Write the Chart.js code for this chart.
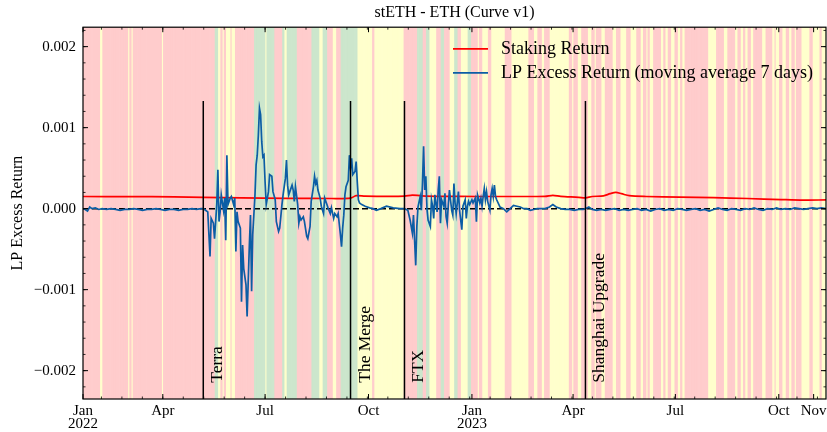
<!DOCTYPE html>
<html>
<head>
<meta charset="utf-8">
<script src="https://cdn.jsdelivr.net/npm/chart.js@4.4.0/dist/chart.umd.min.js"></script>
<style>
  html, body { margin: 0; padding: 0; background: #fff; }
  #wrap { width: 827px; height: 432px; }
</style>
</head>
<body>
<div id="wrap"><canvas id="chart" width="827" height="432"></canvas></div>
<script>
// x values are days counted from 1 Jan 2022 (day 0)
const X_MIN = 19;
const X_MAX = 680;
const Y_MIN = -0.00235;
const Y_MAX = 0.00224;

const xTickDays = [19, 90, 181, 273, 365, 455, 546, 638, 669];
const xTickLabels = [['Jan', '2022'], 'Apr', 'Jul', 'Oct', ['Jan', '2023'], 'Apr', 'Jul', 'Oct', 'Nov'];
const yTickValues = [-0.002, -0.001, 0, 0.001, 0.002];

// market regime shading: each run starts at the given day and lasts until the next one
const bandStart = [
  19, 35, 37, 60, 61, 63, 64, 90, 91, 137,
  140, 142, 144, 145, 147, 151, 152, 155, 172, 182,
  183, 190, 197, 199, 201, 210, 223, 230, 233, 237,
  242, 245, 249, 264, 277, 279, 305, 317, 322, 325,
  328, 334, 338, 341, 346, 350, 353, 356, 362, 365,
  371, 372, 375, 380, 383, 395, 401, 416, 421, 424,
  428, 430, 435, 452, 455, 456, 460, 463, 469, 472,
  475, 476, 481, 484, 491, 494, 498, 503, 507, 512,
  516, 518, 521, 522, 524, 527, 534, 536, 538, 540,
  543, 546, 549, 551, 553, 555, 576, 583, 590, 593,
  600, 602, 605, 607, 609, 611, 614, 616, 624, 627,
  633, 635, 636, 639, 642, 645, 648, 650, 653, 654,
  659, 666, 669, 675, 677
];
const bandRegime = [
  'R','Y','R','Y','R','Y','R','Y','R','G',
  'Y','R','Y','R','Y','R','Y','R','G','Y',
  'G','R','G','Y','G','R','G','Y','G','R',
  'Y','R','G','Y','R','Y','R','G','R','G',
  'Y','R','G','R','Y','G','R','Y','G','R',
  'Y','R','Y','R','Y','R','Y','R','Y','R',
  'Y','R','Y','R','Y','R','Y','R','Y','R',
  'Y','R','Y','R','Y','R','Y','R','Y','R',
  'Y','R','Y','R','Y','R','Y','R','Y','R',
  'Y','R','Y','R','Y','R','Y','R','Y','R',
  'Y','R','Y','R','Y','R','Y','R','Y','R',
  'Y','R','Y','R','Y','R','Y','R','Y','R',
  'Y','R','Y','R','Y'
];
const regimeColors = { R: '#ffcccc', Y: '#ffffcc', G: '#cce6cc' };

// staking return (x 1e-3)
const stakingDays = [19, 60, 100, 126, 160, 200, 240, 257, 262, 270, 290, 305, 312, 320, 340, 370, 400, 430, 437, 444, 460, 466, 472, 482, 488, 493, 498, 505, 520, 550, 580, 610, 640, 660, 680];
const stakingMilli = [0.150, 0.148, 0.146, 0.140, 0.133, 0.128, 0.125, 0.130, 0.160, 0.155, 0.152, 0.155, 0.168, 0.158, 0.152, 0.150, 0.150, 0.152, 0.165, 0.152, 0.140, 0.132, 0.150, 0.158, 0.185, 0.200, 0.185, 0.160, 0.150, 0.143, 0.135, 0.125, 0.112, 0.105, 0.108];

// LP excess return, 7 day moving average (x 1e-3)
const lpDays = [
  19, 21, 23, 25, 27, 30, 33, 36, 40, 44, 48, 52, 56, 60, 64, 68, 72, 76, 80, 84,
  88, 92, 96, 100, 104, 108, 112, 116, 120, 124, 126,
  128, 130, 132, 133, 135, 136, 138, 139, 140, 141, 142, 144, 145, 146, 147, 148, 150, 151, 153,
  154, 155, 156, 157, 159, 160, 161, 162, 164, 165, 167, 168, 169, 170, 172, 173, 174, 175, 176, 177,
  178, 179, 180, 181, 182, 184, 185, 187, 188, 190, 191, 193, 194, 196, 197, 199, 200, 201, 202, 203,
  205, 206, 207, 208, 210, 211, 212, 213, 215, 216, 218, 219, 221, 222, 224, 225, 226, 227, 228, 230,
  231, 233, 234, 236, 237, 239, 240, 242, 243, 245, 246, 248, 249, 250, 251, 252, 253, 255, 256, 257,
  258, 259, 261, 262, 263, 264, 265, 267, 270, 274, 277, 280, 284, 289, 295, 301, 305,
  308, 310, 312, 313, 315, 316, 317, 319, 320, 321, 322, 323, 324, 325, 326, 328, 329, 330, 331, 332,
  334, 335, 336, 337, 338, 340, 341, 342, 343, 344, 345, 347, 348, 349, 350, 351, 353, 354, 355, 356,
  357, 359, 360, 361, 362, 363, 365, 366, 368, 369, 370, 372, 373, 374, 375, 376, 377, 378, 379, 381,
  382, 383, 384, 385, 386, 387, 389, 390, 393, 396, 399, 402, 405, 408, 411, 414, 417, 420, 423, 426,
  430, 434, 437, 440, 444, 448, 452, 456, 460, 464, 466, 469, 472, 476, 480,
  484, 488, 492, 496, 500, 504, 508, 512, 516, 520, 524, 528, 532, 536, 540, 544, 548, 552, 556, 560,
  564, 568, 572, 576, 580, 584, 588, 592, 596, 600, 604, 608, 612, 616, 620, 624, 628, 632, 636, 640,
  644, 648, 652, 656, 660, 664, 668, 672, 676, 680
];
const lpMilli = [
  0.00, -0.01, -0.03, 0.02, 0.00, 0.01, -0.01, 0.00, -0.01, 0.00, -0.01, -0.02, -0.01, -0.01, 0.00, -0.01, -0.02, -0.01, -0.01, 0.00,
  -0.01, -0.02, -0.01, -0.01, -0.02, -0.01, -0.01, 0.00, -0.01, 0.00, 0.00,
  -0.02, -0.04, -0.59, -0.12, -0.18, -0.37, 0.05, 0.48, -0.16, -0.04, 0.17, -0.02, 0.13, -0.39, 0.66, 0.05, 0.13, 0.15, 0.05,
  0.13, -0.53, -0.04, -0.16, -0.24, -1.15, -0.45, -0.74, -0.94, -1.33, -0.45, -0.08, -1.02, -0.32, 0.17, 0.54, 0.66, 0.91, 1.24, 1.16,
  0.83, 0.64, 0.66, 0.33, 0.05, 0.21, 0.42, 0.40, 0.21, 0.11, -0.16, -0.28, -0.24, 0.05, 0.17, 0.37, 0.60, 0.29, 0.17, 0.21,
  0.29, 0.23, 0.09, 0.27, 0.05, -0.18, -0.10, -0.14, -0.10, -0.16, -0.34, -0.37, -0.22, 0.09, 0.27, 0.40, 0.31, 0.35, 0.23, 0.13,
  0.03, -0.06, 0.13, 0.05, 0.01, -0.06, 0.01, -0.12, -0.06, -0.10, -0.06, -0.32, -0.47, -0.24, -0.08, 0.17, 0.27, 0.35, 0.66, 0.50,
  0.62, 0.42, 0.46, 0.58, 0.33, 0.11, 0.07, 0.05, 0.03, 0.01, 0.00, -0.02, 0.00, 0.03, 0.01, 0.00, 0.00,
  -0.02, -0.14, -0.30, -0.08, -0.70, -0.22, 0.02, 0.15, -0.02, 0.31, 0.77, 0.23, 0.40, 0.00, -0.14, -0.22, 0.11, 0.03, -0.12, 0.17,
  -0.04, 0.23, 0.40, -0.18, 0.11, 0.03, 0.19, -0.10, -0.18, 0.05, 0.23, -0.02, -0.08, 0.31, 0.07, -0.06, 0.21, -0.02, -0.14, -0.26,
  0.03, 0.11, -0.12, 0.03, 0.09, 0.05, 0.11, 0.07, 0.13, -0.16, 0.17, 0.07, 0.13, 0.03, 0.15, 0.25, 0.11, 0.21, 0.09, -0.02,
  0.17, 0.25, 0.15, 0.29, 0.15, 0.11, 0.05, 0.02, 0.00, -0.04, 0.00, 0.04, 0.03, 0.02, 0.00, 0.00, -0.02, -0.01, 0.00, 0.00,
  0.00, 0.02, 0.05, 0.02, 0.00, -0.01, -0.01, -0.02, -0.01, -0.01, 0.00, 0.02, -0.01, -0.02, -0.01,
  -0.02, -0.01, 0.00, -0.02, -0.01, -0.02, -0.01, 0.00, -0.02, -0.01, -0.03, -0.01, 0.00, -0.02, -0.01, -0.02, 0.00, -0.01, -0.02, -0.01,
  0.00, -0.02, -0.01, -0.03, -0.01, 0.01, -0.01, -0.02, 0.00, -0.01, -0.02, 0.00, -0.01, 0.01, -0.01, -0.02, 0.00, -0.01, 0.01, -0.01,
  0.00, -0.01, 0.01, 0.00, -0.01, 0.00, 0.01, 0.00, 0.01, 0.00
];

const eventDays = [126, 257, 305, 466];
const eventNames = ['Terra', 'The Merge', 'FTX', 'Shanghai Upgrade'];
const EVENT_TOP = 0.00133;
const EVENT_LABEL_Y = -0.00215;

const SERIF = '"Liberation Serif", "DejaVu Serif", serif';
const BLUE = '#0C5DA5';

// one shaded column per day
const bandDays = [];
for (let d = X_MIN; d <= X_MAX; d++) bandDays.push(d);
const regimeOfDay = d => {
  let r = bandRegime[0];
  for (let i = 0; i < bandStart.length; i++) {
    if (bandStart[i] <= d) r = bandRegime[i];
  }
  return r;
};

const datasets = [
  {
    type: 'bar',
    label: 'regime',
    data: bandDays.map(d => ({ x: d, y: [Y_MIN, Y_MAX] })),
    backgroundColor: bandDays.map(d => regimeColors[regimeOfDay(d)]),
    borderWidth: 0,
    barPercentage: 1,
    categoryPercentage: 1,
    order: 10
  },
  {
    label: 'zero',
    data: [{ x: X_MIN, y: 0 }, { x: X_MAX, y: 0 }],
    borderColor: '#000',
    borderWidth: 1.5,
    borderDash: [6, 3],
    pointRadius: 0,
    order: 3
  },
  {
    label: 'Staking Return',
    data: stakingDays.map((d, i) => ({ x: d, y: stakingMilli[i] / 1000 })),
    borderColor: '#ff0000',
    borderWidth: 1.7,
    pointRadius: 0,
    tension: 0.3,
    order: 2
  },
  {
    label: 'LP Excess Return (moving average 7 days)',
    data: lpDays.map((d, i) => ({ x: d, y: lpMilli[i] / 1000 })),
    borderColor: BLUE,
    borderWidth: 1.7,
    pointRadius: 0,
    order: 1
  }
];
eventDays.forEach((d, i) => {
  datasets.push({
    label: eventNames[i],
    data: [{ x: d, y: Y_MIN }, { x: d, y: EVENT_TOP }],
    borderColor: '#000',
    borderWidth: 1.5,
    pointRadius: 0,
    order: 0
  });
});

// frame, inward ticks, event labels and legend
const decor = {
  id: 'decor',
  afterDatasetsDraw(chart) {
    const { ctx, chartArea: a, scales: { x, y } } = chart;
    ctx.save();

    ctx.fillStyle = '#000';
    ctx.font = '17.5px ' + SERIF;
    ctx.textAlign = 'left';
    ctx.textBaseline = 'alphabetic';
    eventDays.forEach((d, i) => {
      ctx.save();
      ctx.translate(x.getPixelForValue(d) + 19, y.getPixelForValue(EVENT_LABEL_Y));
      ctx.rotate(-Math.PI / 2);
      ctx.fillText(eventNames[i], 0, 0);
      ctx.restore();
    });

    ctx.strokeStyle = '#000';
    const tick = (x1, y1, x2, y2, w) => {
      ctx.lineWidth = w;
      ctx.beginPath();
      ctx.moveTo(x1, y1);
      ctx.lineTo(x2, y2);
      ctx.stroke();
    };
    xTickDays.forEach(d => {
      const px = x.getPixelForValue(d);
      tick(px, a.bottom, px, a.bottom - 5, 1);
      tick(px, a.top, px, a.top + 5, 1);
    });
    for (let d = 90 - 91 / 5 * 3; d <= X_MAX; d += 91 / 5) {
      if (d < X_MIN) continue;
      const px = x.getPixelForValue(d);
      tick(px, a.bottom, px, a.bottom - 2.5, 0.8);
      tick(px, a.top, px, a.top + 2.5, 0.8);
    }
    yTickValues.forEach(v => {
      const py = y.getPixelForValue(v);
      tick(a.left, py, a.left + 5, py, 1);
      tick(a.right, py, a.right - 5, py, 1);
    });
    for (let k = -11; k <= 11; k++) {
      const v = k * 0.0002;
      if (v < Y_MIN || v > Y_MAX) continue;
      const py = y.getPixelForValue(v);
      tick(a.left, py, a.left + 2.5, py, 0.8);
      tick(a.right, py, a.right - 2.5, py, 0.8);
    }

    ctx.lineWidth = 1.2;
    ctx.strokeRect(a.left, a.top, a.right - a.left, a.bottom - a.top);

    const lx = a.right - 373;
    const rows = [
      { text: 'Staking Return', color: '#ff0000', dy: 21.7 },
      { text: 'LP Excess Return (moving average 7 days)', color: BLUE, dy: 45.7 }
    ];
    ctx.font = '18px ' + SERIF;
    ctx.textBaseline = 'middle';
    rows.forEach(r => {
      const ly = a.top + r.dy;
      ctx.strokeStyle = r.color;
      tick(lx, ly, lx + 35, ly, 1.7);
      ctx.fillStyle = '#000';
      ctx.fillText(r.text, lx + 48, ly);
    });

    ctx.restore();
  }
};

new Chart(document.getElementById('chart'), {
  type: 'line',
  data: { datasets },
  options: {
    responsive: false,
    animation: false,
    events: [],
    layout: { padding: { left: 0, right: 1, top: 0, bottom: 0 } },
    plugins: {
      legend: { display: false },
      tooltip: { enabled: false },
      title: {
        display: true,
        fullSize: false,
        text: 'stETH - ETH (Curve v1)',
        color: '#000',
        font: { family: SERIF, size: 16, weight: 'normal' },
        padding: { top: 3, bottom: 5 }
      }
    },
    scales: {
      x: {
        type: 'linear',
        min: X_MIN,
        max: X_MAX,
        offset: false,
        grid: { display: false, drawTicks: false },
        border: { display: false },
        afterBuildTicks: s => { s.ticks = xTickDays.map(v => ({ value: v })); },
        afterFit: s => { s.height = 33; s.paddingLeft = 0; s.paddingRight = 0; },
        ticks: {
          autoSkip: false,
          maxRotation: 0,
          padding: 5,
          color: '#000',
          font: { family: SERIF, size: 15, lineHeight: 0.9 },
          callback: (v, i) => xTickLabels[i]
        }
      },
      y: {
        type: 'linear',
        min: Y_MIN,
        max: Y_MAX,
        grid: { display: false, drawTicks: false },
        border: { display: false },
        afterBuildTicks: s => { s.ticks = yTickValues.map(v => ({ value: v })); },
        afterFit: s => { s.width = 83; },
        title: {
          display: true,
          text: 'LP Excess Return',
          color: '#000',
          font: { family: SERIF, size: 16 },
          padding: { top: 8, bottom: 0 }
        },
        ticks: {
          padding: 7,
          color: '#000',
          font: { family: SERIF, size: 15 },
          callback: v => (v < 0 ? '\u2212' : '') + Math.abs(v).toFixed(3)
        }
      }
    }
  },
  plugins: [decor]
});
</script>
</body>
</html>
